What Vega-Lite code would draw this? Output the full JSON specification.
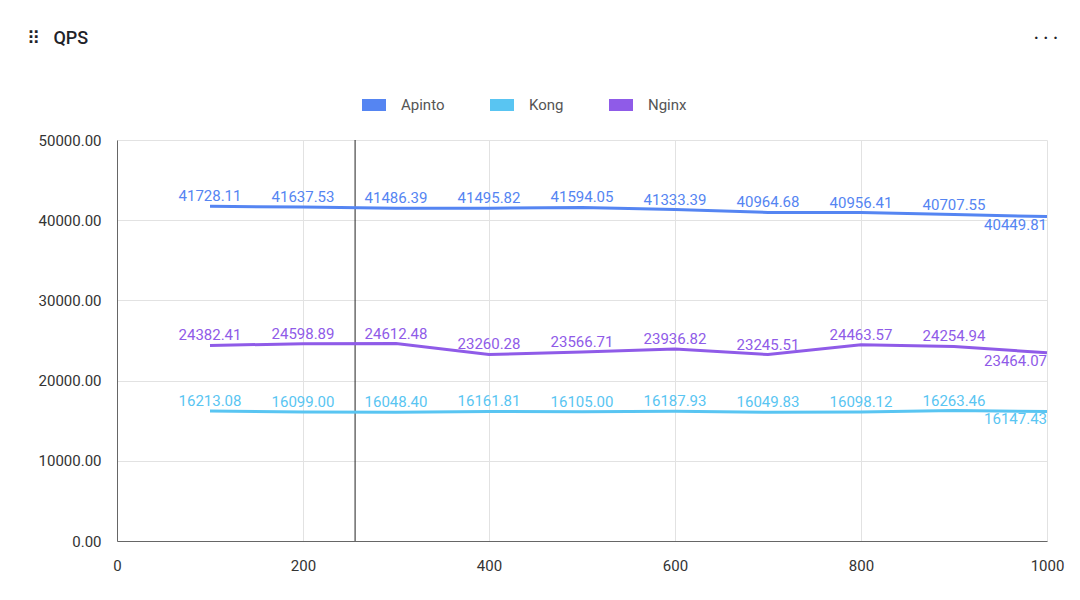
{
  "$schema": "https://vega.github.io/schema/vega-lite/v6.json",
  "width": 930,
  "height": 401,
  "autosize": {"type": "none"},
  "padding": {"left": 117, "top": 140, "right": 33, "bottom": 59},
  "background": "#ffffff",
  "title": {
    "text": "⠿\u00a0\u00a0\u00a0QPS\u2003\u2003\u2003\u2003\u2003\u2003\u2003\u2003\u2003\u2003\u2003\u2003\u2003\u2003\u2003\u2003\u2003\u2003\u2003\u2003\u2003\u2003\u2003\u2003\u2003\u2003\u2003\u2003\u2003\u2003\u2003\u2003\u2003\u2003\u2003\u2003\u2003\u2003\u2003\u2003\u2003\u2003\u2003\u2003\u2003\u2003\u2003\u2003\u2003\u2003\u2003\u2002· · ·",
    "anchor": "start",
    "frame": "group",
    "orient": "top",
    "baseline": "middle",
    "offset": 0,
    "dx": -90,
    "dy": -36,
    "limit": 0,
    "font": "Roboto",
    "fontSize": 18,
    "fontWeight": 500,
    "color": "#1f2329"
  },
  "config": {
    "view": {"stroke": null},
    "font": "Roboto",
    "axis": {
      "labelFont": "Roboto",
      "labelFontSize": 15,
      "labelColor": "#333333",
      "labelFlush": false,
      "ticks": false,
      "domainColor": "#666666",
      "domainWidth": 1,
      "gridColor": "#e2e2e2",
      "gridWidth": 1,
      "title": null
    }
  },
  "datasets": {
    "qps": [
      {"x": 100, "series": "Apinto", "qps": 41728.11},
      {"x": 200, "series": "Apinto", "qps": 41637.53},
      {"x": 300, "series": "Apinto", "qps": 41486.39},
      {"x": 400, "series": "Apinto", "qps": 41495.82},
      {"x": 500, "series": "Apinto", "qps": 41594.05},
      {"x": 600, "series": "Apinto", "qps": 41333.39},
      {"x": 700, "series": "Apinto", "qps": 40964.68},
      {"x": 800, "series": "Apinto", "qps": 40956.41},
      {"x": 900, "series": "Apinto", "qps": 40707.55},
      {"x": 1000, "series": "Apinto", "qps": 40449.81},
      {"x": 100, "series": "Kong", "qps": 16213.08},
      {"x": 200, "series": "Kong", "qps": 16099.00},
      {"x": 300, "series": "Kong", "qps": 16048.40},
      {"x": 400, "series": "Kong", "qps": 16161.81},
      {"x": 500, "series": "Kong", "qps": 16105.00},
      {"x": 600, "series": "Kong", "qps": 16187.93},
      {"x": 700, "series": "Kong", "qps": 16049.83},
      {"x": 800, "series": "Kong", "qps": 16098.12},
      {"x": 900, "series": "Kong", "qps": 16263.46},
      {"x": 1000, "series": "Kong", "qps": 16147.43},
      {"x": 100, "series": "Nginx", "qps": 24382.41},
      {"x": 200, "series": "Nginx", "qps": 24598.89},
      {"x": 300, "series": "Nginx", "qps": 24612.48},
      {"x": 400, "series": "Nginx", "qps": 23260.28},
      {"x": 500, "series": "Nginx", "qps": 23566.71},
      {"x": 600, "series": "Nginx", "qps": 23936.82},
      {"x": 700, "series": "Nginx", "qps": 23245.51},
      {"x": 800, "series": "Nginx", "qps": 24463.57},
      {"x": 900, "series": "Nginx", "qps": 24254.94},
      {"x": 1000, "series": "Nginx", "qps": 23464.07}
    ],
    "cursor": [{"x": 256}]
  },
  "data": {"name": "qps"},
  "encoding": {
    "x": {
      "field": "x",
      "type": "quantitative",
      "scale": {"domain": [0, 1000], "nice": false},
      "axis": {"values": [0, 200, 400, 600, 800, 1000], "labelPadding": 17, "format": "d"}
    },
    "y": {
      "field": "qps",
      "type": "quantitative",
      "scale": {"domain": [0, 50000], "nice": false},
      "axis": {"values": [0, 10000, 20000, 30000, 40000, 50000], "format": ".2f", "labelPadding": 16}
    },
    "color": {
      "field": "series",
      "type": "nominal",
      "scale": {"domain": ["Apinto", "Kong", "Nginx"], "range": ["#5585f2", "#59c5f2", "#8f5be8"]},
      "legend": {
        "title": null,
        "orient": "none",
        "direction": "horizontal",
        "legendX": 245,
        "legendY": -47,
        "symbolType": "M-1,-0.5H1V0.5H-1Z",
        "symbolSize": 576,
        "labelFont": "Roboto",
        "labelFontSize": 15,
        "labelColor": "#555555",
        "labelOffset": 15,
        "columnPadding": 45,
        "encode": {"symbols": {"update": {"fill": {"scale": "color", "field": "value"}, "strokeWidth": {"value": 0}}}}
      }
    }
  },
  "layer": [
    {
      "data": {"name": "cursor"},
      "mark": {"type": "rule", "color": "#222222", "strokeWidth": 1},
      "encoding": {"x": {"field": "x", "type": "quantitative"}, "y": null, "color": null}
    },
    {
      "mark": {"type": "line", "strokeWidth": 3}
    },
    {
      "transform": [{"filter": "datum.x < 1000"}],
      "mark": {"type": "text", "baseline": "middle", "dy": -10, "fontSize": 15, "font": "Roboto"},
      "encoding": {"text": {"field": "qps", "type": "quantitative", "format": ".2f"}}
    },
    {
      "transform": [{"filter": "datum.x == 1000"}],
      "mark": {"type": "text", "baseline": "middle", "align": "right", "dy": 8, "fontSize": 15, "font": "Roboto"},
      "encoding": {"text": {"field": "qps", "type": "quantitative", "format": ".2f"}}
    }
  ]
}
